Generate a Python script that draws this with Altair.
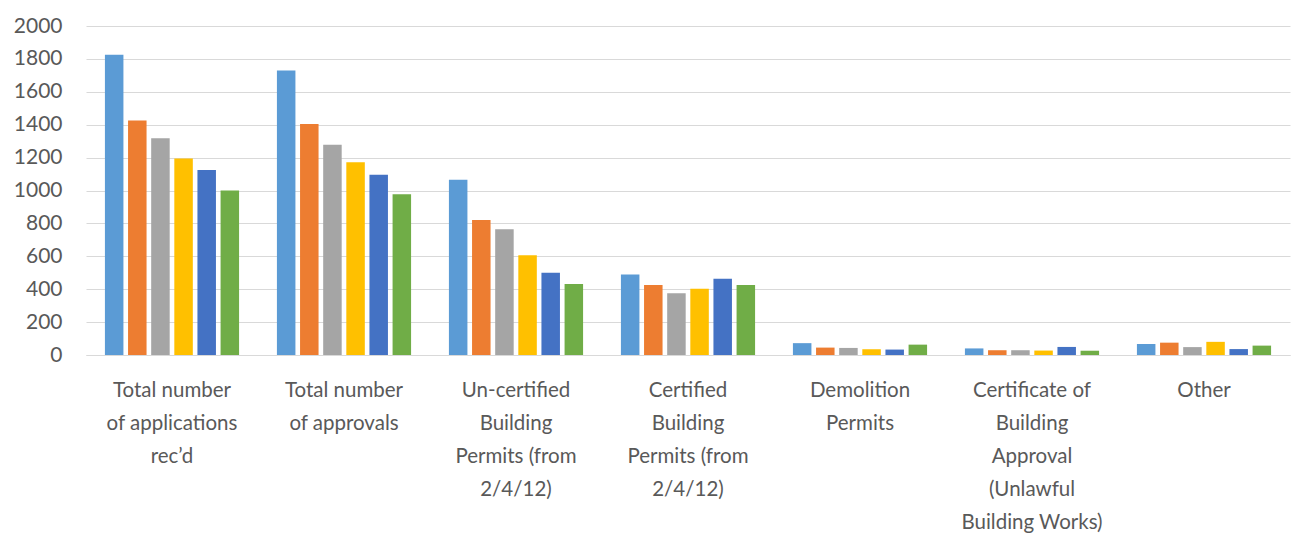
import json
import altair as alt
import pandas as pd

categories = [
    "Total number of applications rec’d",
    "Total number of approvals",
    "Un-certified Building Permits (from 2/4/12)",
    "Certified Building Permits (from 2/4/12)",
    "Demolition Permits",
    "Certificate of Building Approval (Unlawful Building Works)",
    "Other",
]
label_lines = [
    ["Total number", "of applications", "rec’d"],
    ["Total number", "of approvals"],
    ["Un-certified", "Building", "Permits (from", "2/4/12)"],
    ["Certified", "Building", "Permits (from", "2/4/12)"],
    ["Demolition", "Permits"],
    ["Certificate of", "Building", "Approval", "(Unlawful", "Building Works)"],
    ["Other"],
]
series = ["S1", "S2", "S3", "S4", "S5", "S6"]
s1 = [1825, 1730, 1065, 490, 72, 40, 67]
s2 = [1425, 1405, 820, 425, 45, 29, 75]
s3 = [1318, 1278, 765, 376, 43, 29, 48]
s4 = [1195, 1172, 607, 403, 35, 27, 80]
s5 = [1125, 1095, 500, 463, 33, 49, 36]
s6 = [1000, 977, 431, 425, 63, 26, 57]
colors = ["#5B9BD5", "#ED7D31", "#A5A5A5", "#FFC000", "#4472C4", "#70AD47"]

rows = []
for name, vals in zip(series, [s1, s2, s3, s4, s5, s6]):
    for c, v in zip(categories, vals):
        rows.append({"category": c, "series": name, "value": v})
df = pd.DataFrame(rows)

label_map = json.dumps(dict(zip(categories, label_lines)), ensure_ascii=False)

chart = alt.Chart(df).mark_bar().encode(
    x=alt.X("category:N", sort=categories, title=None,
            scale=alt.Scale(paddingInner=0.22, paddingOuter=0.11),
            axis=alt.Axis(labelAngle=0, labelExpr=f"{label_map}[datum.label]",
                          labelFont="Lato", labelFontSize=20.5, labelColor="#595959",
                          labelLineHeight=33, labelPadding=25, ticks=False, domain=True,
                          domainColor="#D9D9D9", labelLimit=300, labelBaseline="top")),
    xOffset=alt.XOffset("series:N", sort=series, scale=alt.Scale(paddingInner=0.2)),
    y=alt.Y("value:Q", title=None,
            scale=alt.Scale(domain=[0, 2000]),
            axis=alt.Axis(values=list(range(0, 2001, 200)), format="d", labelFont="Lato",
                          labelFontSize=21, labelColor="#595959", labelPadding=24,
                          ticks=False, domain=False, gridColor="#D9D9D9", gridWidth=1)),
    color=alt.Color("series:N", sort=series, scale=alt.Scale(domain=series, range=colors),
                    legend=None),
).properties(
    width=1204, height=329,
    autosize=alt.AutoSizeParams(type="none"),
    padding={"left": 86, "top": 26, "right": 3, "bottom": 178},
).configure(background="white").configure_view(stroke=None)

chart.save("out.html", embed_options={"renderer": "svg", "actions": False})
